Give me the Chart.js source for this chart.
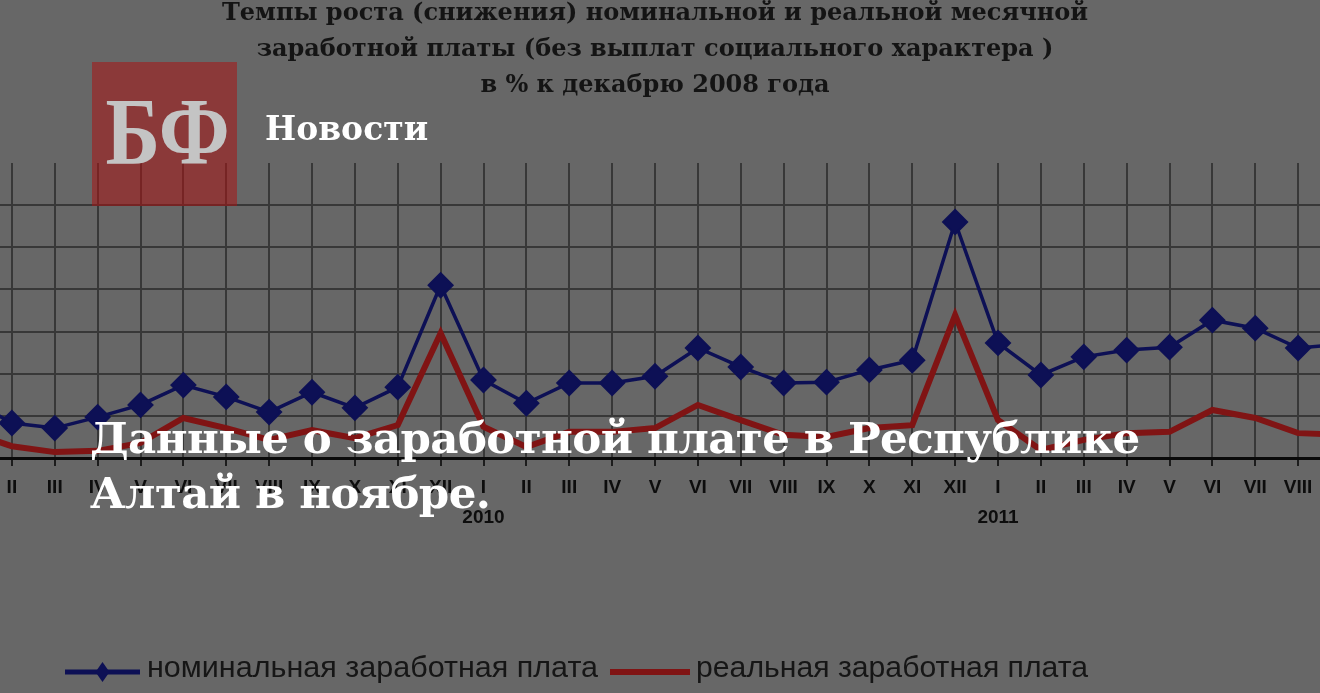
<!DOCTYPE html>
<html lang="ru">
<head>
<meta charset="utf-8">
<title>Данные о заработной плате в Республике Алтай в ноябре.</title>
<script src="https://cdn.jsdelivr.net/npm/chart.js@4.4.1/dist/chart.umd.min.js"></script>
<style>
  html, body { margin: 0; padding: 0; }
  body { width: 1320px; height: 693px; overflow: hidden; position: relative; background: #676767; }
  #wrap { position: absolute; left: -80px; top: 0; width: 1440px; height: 693px; }
  .logo { position: absolute; left: 92px; top: 62px; width: 145px; height: 144px; background: rgba(170, 20, 20, 0.55); }
  .logo-text { position: absolute; left: 95px; top: 84px; width: 145px; text-align: center;
               font: bold 96px/96px 'Liberation Serif', serif; color: #c4c4c4;
               transform: scaleX(0.86); transform-origin: 50% 50%; }
  .rubric { position: absolute; left: 265px; top: 112px; font: bold 33px/33px 'DejaVu Serif', serif; color: #fff; }
  .headline { position: absolute; left: 90px; top: 410px; width: 1180px; letter-spacing: -0.6px;
              font: bold 43.5px/55px 'DejaVu Serif', serif; color: #fff; }
</style>
</head>
<body>
<div id="wrap"><canvas id="wages" width="1440" height="693"></canvas></div>
<div class="logo"></div>
<div class="logo-text">БФ</div>
<div class="rubric">Новости</div>
<div class="headline">Данные о заработной плате в Республике<br>Алтай в ноябре.</div>

<script>
// months Jan 2009 .. Sep 2011, % to December 2008
var months = ['I','II','III','IV','V','VI','VII','VIII','IX','X','XI','XII'];
var years = ['2009', '2010', '2011'];

var nominal = [
  84.0, 78.3, 77.1, 79.7, 82.6, 87.3, 84.5, 80.9, 85.6, 81.9, 86.8, 111.0,
  88.5, 83.0, 87.8, 87.8, 89.4, 96.1, 91.6, 87.8, 88.0, 90.9, 93.2, 126.0,
  97.3, 89.7, 94.0, 95.6, 96.3, 102.7, 100.8, 96.1, 97.0
];
var real = [
  76.2, 72.8, 71.4, 71.7, 73.6, 79.5, 77.1, 74.3, 76.6, 74.7, 77.8, 99.6,
  77.4, 72.6, 76.2, 76.2, 77.1, 82.6, 79.0, 75.5, 75.0, 77.1, 77.8, 103.9,
  79.0, 71.9, 74.3, 75.9, 76.2, 81.4, 79.5, 75.9, 75.5
];
var seriesNames = ['номинальная заработная плата', 'реальная заработная плата'];
var titleLines = [
  'Темпы роста (снижения) номинальной и реальной месячной',
  'заработной платы (без выплат социального характера )',
  'в % к декабрю 2008 года'
];

var labels = [];
for (var i = 0; i < nominal.length; i++) {
  var m = months[i % 12];
  labels.push(i % 12 === 0 ? [m, years[Math.floor(i / 12)]] : m);
}

var GRID = '#383838';
var NAVY = '#0d1055';
var DARKRED = '#801414';

// legend row drawn by hand: line sample, then text squeezed to the width of the original
var legendRow = {
  id: 'legendRow',
  afterDraw: function (chart) {
    var ctx = chart.ctx;
    var shift = 80; // canvas starts 80px left of the page
    var items = [
      { ds: 0, x0: 65, x1: 140, tx: 147, tw: 451 },
      { ds: 1, x0: 610, x1: 690, tx: 696, tw: 392 }
    ];
    ctx.save();
    items.forEach(function (it) {
      var ds = chart.data.datasets[it.ds];
      var y = 672;
      ctx.strokeStyle = ds.borderColor;
      ctx.lineWidth = it.ds === 0 ? 5 : 6;
      ctx.beginPath();
      ctx.moveTo(it.x0 + shift, y);
      ctx.lineTo(it.x1 + shift, y);
      ctx.stroke();
      if (it.ds === 0) {
        var cx = (it.x0 + it.x1) / 2 + shift;
        ctx.fillStyle = ds.borderColor;
        ctx.beginPath();
        ctx.moveTo(cx - 7, y);
        ctx.lineTo(cx, y - 10);
        ctx.lineTo(cx + 7, y);
        ctx.lineTo(cx, y + 10);
        ctx.closePath();
        ctx.fill();
      }
      ctx.font = '29px "Liberation Sans", Arial, sans-serif';
      ctx.fillStyle = '#161616';
      ctx.textBaseline = 'middle';
      var w = ctx.measureText(ds.label).width;
      ctx.save();
      ctx.translate(it.tx + shift, 669);
      ctx.scale(it.tw / w, 1);
      ctx.fillText(ds.label, 0, 0);
      ctx.restore();
    });
    ctx.restore();
  }
};

new Chart(document.getElementById('wages'), {
  type: 'line',
  data: {
    labels: labels,
    datasets: [
      {
        label: seriesNames[0],
        data: nominal,
        borderColor: NAVY,
        backgroundColor: NAVY,
        borderWidth: 3.5,
        pointStyle: 'rectRot',
        pointRadius: 12,
        pointBorderWidth: 2,
        tension: 0
      },
      {
        label: seriesNames[1],
        data: real,
        borderColor: DARKRED,
        backgroundColor: DARKRED,
        borderWidth: 6,
        pointRadius: 0,
        tension: 0
      }
    ]
  },
  options: {
    responsive: false,
    animation: false,
    events: [],
    layout: { padding: { left: 49, right: 19, top: 0, bottom: 153 } },
    plugins: {
      legend: { display: false },
      tooltip: { enabled: false },
      title: {
        display: true,
        text: titleLines,
        color: '#141414',
        font: { family: 'DejaVu Serif', size: 24, weight: 'bold', lineHeight: '36px' },
        padding: { top: -4, bottom: 59 }
      }
    },
    scales: {
      x: {
        offset: false,
        grid: { color: GRID, lineWidth: 2, tickLength: 8, tickColor: '#1c1c1c' },
        border: { color: '#0a0a0a', width: 3 },
        ticks: {
          autoSkip: false,
          maxRotation: 0,
          minRotation: 0,
          padding: 7,
          color: '#0d0d0d',
          font: { family: 'Liberation Sans', size: 19, weight: 'bold', lineHeight: '30px' }
        }
      },
      y: {
        min: 70,
        max: 140,
        ticks: { display: false, stepSize: 10 },
        border: { display: false },
        grid: {
          drawTicks: false,
          lineWidth: 2,
          color: function (c) { return c.tick && c.tick.value === 140 ? 'rgba(0,0,0,0)' : GRID; }
        }
      }
    }
  },
  plugins: [legendRow]
});
</script>
</body>
</html>
